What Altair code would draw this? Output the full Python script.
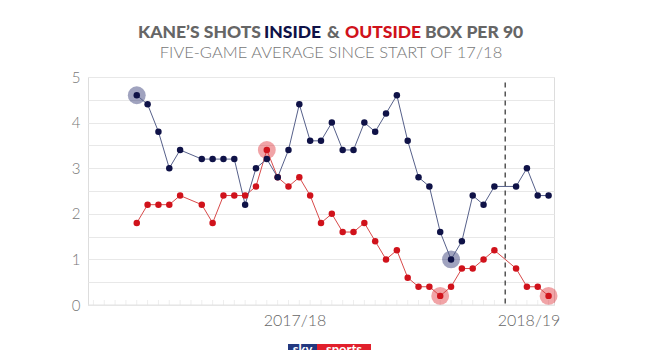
import altair as alt
import pandas as pd

# slot index = match position (slots 5 and 34 have no value)
slots = list(range(39))
inside = [4.6, 4.4, 3.8, 3.0, 3.4, None, 3.2, 3.2, 3.2, 3.2, 2.2, 3.0, 3.2, 2.8, 3.4,
          4.4, 3.6, 3.6, 4.0, 3.4, 3.4, 4.0, 3.8, 4.2, 4.6, 3.6, 2.8, 2.6, 1.6, 1.0,
          1.4, 2.4, 2.2, 2.6, None, 2.6, 3.0, 2.4, 2.4]
outside = [1.8, 2.2, 2.2, 2.2, 2.4, None, 2.2, 1.8, 2.4, 2.4, 2.4, 2.6, 3.4, 2.8, 2.6,
           2.8, 2.4, 1.8, 2.0, 1.6, 1.6, 1.8, 1.4, 1.0, 1.2, 0.6, 0.4, 0.4, 0.2, 0.4,
           0.8, 0.8, 1.0, 1.2, None, 0.8, 0.4, 0.4, 0.2]
inside_highlights = [0, 29]
outside_highlights = [12, 28, 38]
season_break = 34
season_labels = ["2017/18", "2018/19"]
season_label_pos = [14.6, 36.2]
y_ticks = [0, 0.5, 1, 1.5, 2, 2.5, 3, 3.5, 4, 4.5, 5]

NAVY = "#0f1247"
RED = "#d0121b"
FONT = "Lato"

rows = []
for s, a, b in zip(slots, inside, outside):
    if a is not None:
        rows.append({"slot": s, "value": a, "series": "Inside", "hl": s in inside_highlights})
    if b is not None:
        rows.append({"slot": s, "value": b, "series": "Outside", "hl": s in outside_highlights})
df = pd.DataFrame(rows)
ins = df[df.series == "Inside"]
outs = df[df.series == "Outside"]

W, H = 466, 228
xs = alt.Scale(domain=[-4.5, 38.5], nice=False, zero=False)
ys = alt.Scale(domain=[0, 5], nice=False)

YAXIS = alt.Axis(
    values=y_ticks, title=None, domain=False, ticks=False,
    labelExpr="datum.value % 1 == 0 ? format(datum.value, 'd') : ''",
    labelFont=FONT, labelFontSize=15, labelFontWeight=300, labelColor="#777777",
    labelPadding=8, gridColor="#e8e8e8", gridWidth=1)
X = alt.X("slot:Q", scale=xs, axis=None)
Y = alt.Y("value:Q", scale=ys, axis=YAXIS)

grid = alt.Chart(df).mark_point(opacity=0).encode(x=X, y=Y)

ticks_df = pd.DataFrame({"slot": list(range(-4, 39))})
ticks = alt.Chart(ticks_df).mark_rule(color="#eeeeee", strokeWidth=1).encode(
    x=X, y=alt.value(H), y2=alt.value(H - 5))
baseline = alt.Chart(ticks_df.head(1)).mark_rule(color="#e3e3e3").encode(
    x=alt.value(0), x2=alt.value(W), y=alt.value(H))

brk = alt.Chart(pd.DataFrame({"slot": [season_break], "value": [4.88], "bot": [0]})).mark_rule(
    color="#555555", strokeWidth=1.5, strokeDash=[5, 4]).encode(x=X, y=Y, y2="bot:Q")

hl_in = alt.Chart(ins[ins.hl]).mark_circle(size=320, color="#1c2466", opacity=0.42).encode(x=X, y=Y)
hl_out = alt.Chart(outs[outs.hl]).mark_circle(size=320, color="#dc1c24", opacity=0.4).encode(x=X, y=Y)

line_out = alt.Chart(outs).mark_line(color="#d84a4a", strokeWidth=1).encode(x=X, y=Y)
line_in = alt.Chart(ins).mark_line(color="#56608a", strokeWidth=1).encode(x=X, y=Y)
pts_out = alt.Chart(outs).mark_circle(size=42, color=RED, opacity=1).encode(x=X, y=Y)
pts_in = alt.Chart(ins).mark_circle(size=42, color=NAVY, opacity=1).encode(x=X, y=Y)

season_df = pd.DataFrame({"slot": season_label_pos, "label": season_labels})
seasons = alt.Chart(season_df).mark_text(font=FONT, fontSize=16, fontWeight=300,
                                         color="#666666", align="center",
                                         baseline="alphabetic").encode(
    x=X, y=alt.value(H + 21), text="label:N")

# title pieces
title_parts = ["KANE’S SHOTS", "INSIDE", "&", "OUTSIDE", "BOX PER 90"]
title_colors = ["#666666", NAVY, "#666666", RED, "#666666"]
title_x = [50, 176, 239, 257, 337]
title_layers = []
for t, c, x in zip(title_parts, title_colors, title_x):
    title_layers.append(alt.Chart(ticks_df.head(1)).mark_text(
        text=t, font=FONT, fontSize=17.5, fontWeight=900, color=c,
        align="left", baseline="alphabetic").encode(x=alt.value(x), y=alt.value(-39)))
subtitle = alt.Chart(ticks_df.head(1)).mark_text(
    text="FIVE-GAME AVERAGE SINCE START OF 17/18", font=FONT, fontSize=16.5,
    fontWeight=300, color="#777777", align="center", baseline="alphabetic").encode(
    x=alt.value(243), y=alt.value(-19.5))

# sky sports logo strip (cut off at the bottom edge, as in the original)
logo_blue = alt.Chart(ticks_df.head(1)).mark_rect(color="#23387f").encode(
    x=alt.value(200), x2=alt.value(229), y=alt.value(267), y2=alt.value(280))
logo_red = alt.Chart(ticks_df.head(1)).mark_rect(color="#e1202c").encode(
    x=alt.value(229), x2=alt.value(283), y=alt.value(267), y2=alt.value(280))
logo_txt1 = alt.Chart(ticks_df.head(1)).mark_text(
    text="sky", font=FONT, fontSize=13, fontWeight="bold", color="white", align="center",
    baseline="top").encode(x=alt.value(214.5), y=alt.value(267))
logo_txt2 = alt.Chart(ticks_df.head(1)).mark_text(
    text="sports", font=FONT, fontSize=13, fontWeight="bold", color="white", align="center",
    baseline="top").encode(x=alt.value(256), y=alt.value(267))

chart = alt.layer(
    grid, ticks, baseline, brk, hl_in, hl_out, line_out, line_in, pts_out, pts_in,
    seasons, *title_layers, subtitle, logo_blue, logo_red, logo_txt1, logo_txt2
).properties(
    width=W, height=H,
    autosize=alt.AutoSizeParams(type="none"),
    padding={"left": 88, "top": 77, "right": 106, "bottom": 45},
).configure_view(stroke=None).configure(background="white")

chart.save("out.html", embed_options={"renderer": "svg", "actions": False})
